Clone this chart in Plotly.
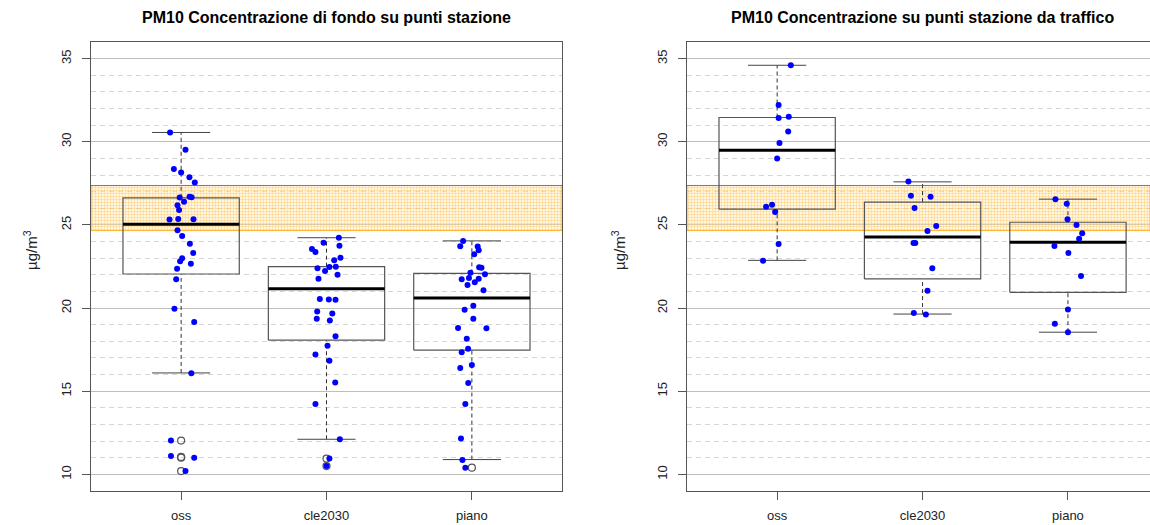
import plotly.graph_objects as go

categories = ["oss", "cle2030", "piano"]
band = [24.66, 27.37]

# box stats: lower whisker, Q1, median, Q3, upper whisker
fondo_stats = [[16.10, 22.05, 25.04, 26.63, 30.56],
               [12.11, 18.07, 21.16, 22.49, 24.23],
               [10.89, 17.47, 20.60, 22.09, 24.04]]
traffico_stats = [[22.87, 25.95, 29.49, 31.46, 34.60],
                  [19.64, 21.75, 24.28, 26.37, 27.59],
                  [18.55, 20.95, 23.96, 25.16, 26.55]]

fondo_outliers = [[12.03, 11.05, 11.00, 10.20], [10.95, 10.50], [10.40]]
traffico_outliers = [[], [], []]

# station values (y) and horizontal jitter
fondo_oss_y = [30.56, 29.52, 28.37, 28.15, 27.87, 27.55, 26.65, 26.69, 26.66, 26.39,
               26.19, 25.90, 25.32, 25.36, 25.34, 24.68, 24.34, 23.87, 23.31, 23.00,
               22.81, 22.67, 22.37, 21.73, 19.96, 19.17, 16.08, 12.03, 11.11, 11.00, 10.20]
fondo_oss_j = [-0.076, 0.03, -0.05, 0.0, 0.057, 0.094, -0.01, 0.058, 0.072, 0.02,
               -0.025, -0.014, -0.08, -0.02, 0.085, -0.025, 0.007, 0.06, 0.083, 0.007,
               -0.007, 0.067, -0.028, -0.034, -0.046, 0.09, 0.07, -0.07, -0.07, 0.09, 0.03]
fondo_cle_y = [24.23, 23.93, 23.75, 23.55, 23.37, 23.03, 22.87, 22.39, 22.47, 22.49,
               22.23, 22.00, 21.77, 20.54, 20.52, 20.50, 19.80, 19.68, 19.36, 19.26,
               18.31, 17.73, 17.21, 16.83, 15.52, 14.23, 12.11, 10.95, 10.50]
fondo_cle_j = [0.085, -0.02, 0.089, -0.10, -0.076, 0.096, 0.053, -0.062, 0.02, 0.064,
               -0.01, 0.076, -0.055, -0.046, 0.016, 0.062, -0.064, 0.04, -0.067, 0.023,
               0.062, 0.007, -0.076, 0.02, 0.06, -0.076, 0.092, 0.02, 0.0]
fondo_piano_y = [24.04, 23.72, 23.70, 23.48, 23.24, 22.45, 22.42, 22.13, 22.03, 21.73,
                 21.81, 21.77, 21.55, 21.39, 21.07, 20.14, 19.90, 19.36, 18.80, 18.78,
                 18.15, 17.55, 17.35, 16.40, 16.58, 15.50, 14.23, 12.15, 10.86, 10.40]
fondo_piano_j = [-0.06, -0.08, 0.04, 0.047, 0.016, 0.05, 0.066, -0.01, 0.09, -0.07,
                 -0.02, 0.047, 0.02, -0.03, 0.08, 0.01, -0.05, 0.01, -0.095, 0.10,
                 -0.035, -0.026, -0.07, -0.08, 0.0, -0.025, -0.045, -0.075, -0.065, -0.045]

traf_oss_y = [34.60, 32.21, 31.43, 31.51, 30.62, 29.92, 29.00, 26.10, 26.22, 25.78, 23.86, 22.85]
traf_oss_j = [0.094, 0.01, 0.01, 0.08, 0.076, 0.016, 0.0, -0.076, -0.035, -0.014, 0.01, -0.097]
traf_cle_y = [27.61, 26.75, 26.69, 26.02, 24.94, 24.64, 23.92, 23.92, 22.39, 21.04, 19.70, 19.62]
traf_cle_j = [-0.097, -0.08, 0.055, -0.055, 0.094, 0.034, -0.062, -0.05, 0.067, 0.034, -0.06, 0.023]
traf_piano_y = [26.55, 26.27, 25.34, 25.00, 24.50, 24.17, 23.73, 23.31, 21.93, 19.92, 19.05, 18.55]
traf_piano_j = [-0.086, -0.008, -0.003, 0.059, 0.098, 0.077, -0.093, 0.003, 0.09, 0.0, -0.09, 0.0]

fondo_points = [(fondo_oss_y, fondo_oss_j), (fondo_cle_y, fondo_cle_j), (fondo_piano_y, fondo_piano_j)]
traf_points = [(traf_oss_y, traf_oss_j), (traf_cle_y, traf_cle_j), (traf_piano_y, traf_piano_j)]

W, H = 1150, 525
PX = 145.4  # pixels per category unit
font = "Liberation Sans, Arial, sans-serif"

fig = go.Figure()


def add_panel(stats, outliers, points, xa, ya, xrange):
    # reference band
    fig.add_trace(go.Scatter(
        x=[xrange[0], xrange[1], xrange[1], xrange[0], xrange[0]],
        y=[band[0], band[0], band[1], band[1], band[0]],
        fill="toself", mode="lines", line=dict(color="rgba(255,170,20,0.9)", width=1),
        fillcolor="rgba(255,200,80,0.35)",
        fillpattern=dict(shape="+", fgcolor="rgba(255,165,0,0.75)", bgcolor="rgba(255,236,185,0.4)",
                         size=3, solidity=0.4),
        xaxis=xa, yaxis=ya, hoverinfo="skip"))
    fig.add_trace(go.Scatter(x=list(xrange), y=[band[1], band[1]], mode="lines",
                             line=dict(color="#ff4a2a", width=1), xaxis=xa, yaxis=ya, hoverinfo="skip"))
    for i, s in enumerate(stats):
        c = i + 1
        lo, q1, med, q3, hi = s
        # whiskers
        for a, b in [(lo, q1), (q3, hi)]:
            fig.add_trace(go.Scatter(x=[c, c], y=[a, b], mode="lines",
                                     line=dict(color="#333", width=1, dash="4px,3px"), xaxis=xa, yaxis=ya))
        for v in (lo, hi):
            fig.add_trace(go.Scatter(x=[c - 0.2, c + 0.2], y=[v, v], mode="lines",
                                     line=dict(color="#444", width=1), xaxis=xa, yaxis=ya))
        fig.add_trace(go.Scatter(x=[c - 0.4, c + 0.4, c + 0.4, c - 0.4, c - 0.4], y=[q1, q1, q3, q3, q1],
                                 mode="lines", line=dict(color="#555", width=1.2), xaxis=xa, yaxis=ya))
        fig.add_trace(go.Scatter(x=[c - 0.4, c + 0.4], y=[med, med], mode="lines",
                                 line=dict(color="#000", width=3), xaxis=xa, yaxis=ya))
        if outliers[i]:
            fig.add_trace(go.Scatter(x=[c] * len(outliers[i]), y=outliers[i], mode="markers",
                                     marker=dict(size=7, color="rgba(0,0,0,0)", line=dict(color="#555", width=1.2)),
                                     xaxis=xa, yaxis=ya))
    for i, (yy, jj) in enumerate(points):
        fig.add_trace(go.Scatter(x=[i + 1 + j for j in jj], y=yy, mode="markers",
                                 marker=dict(size=6, color="#0000ff"), xaxis=xa, yaxis=ya))


left_range = [0.38, 3.62]
right_range = [0.38, 0.38 + (W - 687) / PX]
add_panel(fondo_stats, fondo_outliers, fondo_points, "x", "y", left_range)
add_panel(traffico_stats, traffico_outliers, traf_points, "x2", "y2", right_range)

ydom = [1 - 491 / H, 1 - 42 / H]
xcommon = dict(tickvals=[1, 2, 3], ticktext=categories, showgrid=False, zeroline=False,
               showline=True, linecolor="#555", linewidth=1, mirror=True,
               ticks="outside", ticklen=8, tickcolor="#555", ticklabelstandoff=4,
               tickfont=dict(family=font, size=13, color="#222"))
ycommon = dict(range=[9, 36], tickvals=[10, 15, 20, 25, 30, 35], tickangle=-90,
               showgrid=True, gridcolor="#bdbdbd", gridwidth=1, zeroline=False,
               minor=dict(dtick=1, tick0=0, showgrid=True, gridcolor="#d6d6d6", griddash="5px,4px"),
               showline=True, linecolor="#555", linewidth=1,
               ticks="outside", ticklen=8, tickcolor="#555", ticklabelstandoff=6,
               tickfont=dict(family=font, size=13, color="#222"), domain=ydom)

title_font = dict(family=font, size=16, color="#000")
ylab_font = dict(family=font, size=15, color="#222")
fig.update_layout(
    width=W, height=H, margin=dict(l=0, r=0, t=0, b=0),
    paper_bgcolor="white", plot_bgcolor="white", showlegend=False,
    xaxis=dict(domain=[91 / W, 562 / W], range=left_range, anchor="y", **xcommon),
    yaxis=dict(anchor="x", mirror=True, **ycommon),
    xaxis2=dict(domain=[687 / W, 1.0], range=right_range, anchor="y2", **xcommon),
    yaxis2=dict(anchor="x2", mirror=False, **ycommon),
    annotations=[
        dict(text="<b>PM10 Concentrazione di fondo su punti stazione</b>", x=326.5 / W, y=1 - 18 / H,
             xanchor="center", yanchor="middle",
             xref="paper", yref="paper", showarrow=False, font=title_font),
        dict(text="<b>PM10 Concentrazione su punti stazione da traffico</b>", x=922 / W, y=1 - 18 / H,
             xanchor="center", yanchor="middle",
             xref="paper", yref="paper", showarrow=False, font=title_font),
        dict(text="µg/m<sup>3</sup>", x=30 / W, y=1 - 250 / H, xref="paper", yref="paper",
             xanchor="center", yanchor="middle",
             showarrow=False, textangle=-90, font=ylab_font),
        dict(text="µg/m<sup>3</sup>", x=618 / W, y=1 - 250 / H, xref="paper", yref="paper",
             xanchor="center", yanchor="middle",
             showarrow=False, textangle=-90, font=ylab_font),
    ],
)

fig.write_html("out.html", config={"displayModeBar": False},
               post_script="document.body.style.margin='0';document.body.style.overflow='hidden';")
